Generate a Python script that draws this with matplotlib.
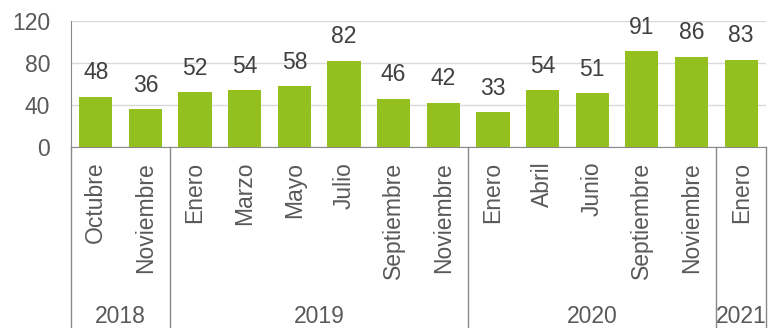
import matplotlib
matplotlib.use("Agg")
import matplotlib.pyplot as plt
import matplotlib.transforms as mtransforms

# datos
meses = ["Octubre", "Noviembre",
         "Enero", "Marzo", "Mayo", "Julio", "Septiembre", "Noviembre",
         "Enero", "Abril", "Junio", "Septiembre", "Noviembre",
         "Enero"]
valores = [48, 36, 52, 54, 58, 82, 46, 42, 33, 54, 51, 91, 86, 83]
anios = ["2018", "2019", "2020", "2021"]
meses_por_anio = [2, 6, 5, 1]

plt.rcParams["font.family"] = ["Liberation Sans", "DejaVu Sans"]
gris_texto = "#595959"
gris_eje = "#898989"

fig = plt.figure(figsize=(7.82, 3.28), dpi=100)
ax = fig.add_axes([0.0908, 0.5518, 0.8887, 0.3842])

x = list(range(len(valores)))
barras = ax.bar(x, valores, width=0.67, color="#93C01F", zorder=3)
ax.bar_label(barras, labels=[str(v) for v in valores], padding=9,
             fontsize=16.5, color="#404040")

ax.set_xlim(-0.5, len(valores) - 0.5)
ax.set_ylim(0, 120)
ax.set_yticks([0, 40, 80, 120])
ax.yaxis.grid(True, color="#d9d9d9", linewidth=1, zorder=0)
ax.tick_params(axis="y", length=0, pad=15, labelsize=16.5, labelcolor=gris_texto)
ax.set_xticks([])

for lado in ["top", "right"]:
    ax.spines[lado].set_visible(False)
ax.spines["left"].set_color(gris_eje)
ax.spines["bottom"].set_color(gris_eje)

# etiquetas de meses y años bajo el eje
trans = mtransforms.blended_transform_factory(ax.transData, fig.transFigure)
y_eje = 0.5518
for i, mes in enumerate(meses):
    ax.text(i, y_eje - 0.045, mes, transform=trans, rotation=90,
            ha="center", va="top", fontsize=16.5, color=gris_texto)

inicio = -0.5
for anio, n in zip(anios, meses_por_anio):
    fin = inicio + n
    ax.text((inicio + fin) / 2, 0.036, anio, transform=trans,
            ha="center", va="center", fontsize=16.5, color=gris_texto)
    ax.plot([inicio, inicio], [y_eje, 0], transform=trans, color=gris_eje,
            linewidth=1, clip_on=False)
    inicio = fin
ax.plot([inicio, inicio], [y_eje, 0], transform=trans, color=gris_eje,
        linewidth=1, clip_on=False)

fig.savefig("out.png", dpi=100)
